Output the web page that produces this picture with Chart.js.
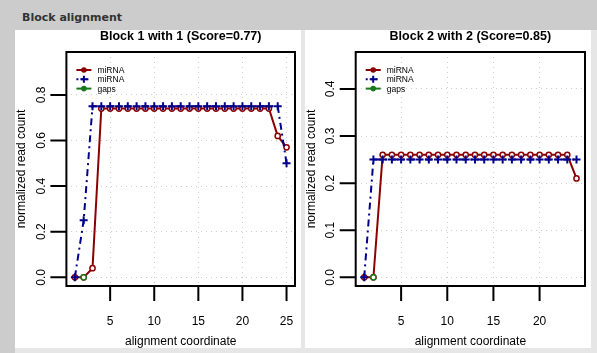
<!DOCTYPE html>
<html><head><meta charset="utf-8">
<script src="https://cdn.jsdelivr.net/npm/chart.js@4/dist/chart.umd.min.js"></script>
<style>
html,body{margin:0;padding:0;width:597px;height:353px;overflow:hidden;background:#e6e6e6;}
#hdr{position:absolute;left:0;top:0;width:597px;height:30px;background:#cccccc;}
#hdr span{position:absolute;left:22px;top:11px;font:bold 11px "DejaVu Sans",sans-serif;line-height:13px;color:#333;white-space:nowrap;}
#side{position:absolute;left:0;top:30px;width:15px;height:323px;background:#cccccc;}
.panel{position:absolute;top:30px;width:286px;height:318px;background:#fff;}
.panel canvas{display:block;}
</style></head>
<body>
<div id="hdr"><span>Block alignment</span></div>
<div id="side"></div>
<div class="panel" style="left:15px"><canvas id="c1" width="286" height="318"></canvas></div>
<div class="panel" style="left:305px"><canvas id="c2" width="286" height="318"></canvas></div>
<script>
// ---- data: Block 1 with 1 ----
const title1 = "Block 1 with 1 (Score=0.77)";
const coords1 = [1,2,3,4,5,6,7,8,9,10,11,12,13,14,15,16,17,18,19,20,21,22,23,24,25];
const miRNA1a = [0,0,0.04,0.74,0.74,0.74,0.74,0.74,0.74,0.74,0.74,0.74,0.74,0.74,0.74,0.74,0.74,0.74,0.74,0.74,0.74,0.74,0.74,0.62,0.57];
const miRNA1b = [0,0.25,0.75,0.75,0.75,0.75,0.75,0.75,0.75,0.75,0.75,0.75,0.75,0.75,0.75,0.75,0.75,0.75,0.75,0.75,0.75,0.75,0.75,0.75,0.5];
const gapsX1 = [2];
const gapsY1 = [0];
const xTicks1 = [5,10,15,20,25];
const xTickLabels1 = ["5","10","15","20","25"];
const yTicks1 = [0,0.2,0.4,0.6,0.8];
const yTickLabels1 = ["0.0","0.2","0.4","0.6","0.8"];

// ---- data: Block 2 with 2 ----
const title2 = "Block 2 with 2 (Score=0.85)";
const coords2 = [1,2,3,4,5,6,7,8,9,10,11,12,13,14,15,16,17,18,19,20,21,22,23,24];
const miRNA2a = [0,0,0.26,0.26,0.26,0.26,0.26,0.26,0.26,0.26,0.26,0.26,0.26,0.26,0.26,0.26,0.26,0.26,0.26,0.26,0.26,0.26,0.26,0.21];
const miRNA2b = [0,0.25,0.25,0.25,0.25,0.25,0.25,0.25,0.25,0.25,0.25,0.25,0.25,0.25,0.25,0.25,0.25,0.25,0.25,0.25,0.25,0.25,0.25,0.25];
const gapsX2 = [2];
const gapsY2 = [0];
const xTicks2 = [5,10,15,20];
const xTickLabels2 = ["5","10","15","20"];
const yTicks2 = [0,0.1,0.2,0.3,0.4];
const yTickLabels2 = ["0.0","0.1","0.2","0.3","0.4"];

const xTitle = "alignment coordinate";
const yTitle = "normalized read count";

const RED = '#8b0000', BLUE = '#00008b', GREEN = '#197819';
const SANS = '"Liberation Sans", Arial, Helvetica, sans-serif';

function pts(xs, ys){ return xs.map((x,i)=>({x:x, y:ys[i]})); }

const rPlot = {
  id:'rplot',
  afterDatasetsDraw(chart, args, o){
    const ctx = chart.ctx, a = chart.chartArea, xs = chart.scales.x, ys = chart.scales.y;
    ctx.save();
    ctx.strokeStyle = '#000'; ctx.lineWidth = 2; ctx.setLineDash([]);
    ctx.strokeRect(a.left, a.top, a.right-a.left, a.bottom-a.top);
    ctx.beginPath();
    o.xTicks.forEach(v=>{ const px = xs.getPixelForValue(v); ctx.moveTo(px, a.bottom); ctx.lineTo(px, a.bottom+15); });
    o.yTicks.forEach(v=>{ const py = ys.getPixelForValue(v); ctx.moveTo(a.left, py); ctx.lineTo(a.left-16, py); });
    ctx.stroke();
    ctx.fillStyle = '#000';
    ctx.font = '12px ' + SANS;
    ctx.textAlign = 'center'; ctx.textBaseline = 'alphabetic';
    o.xTicks.forEach((v,i)=>ctx.fillText(o.xLabels[i], xs.getPixelForValue(v), a.bottom+39));
    o.yTicks.forEach((v,i)=>{ ctx.save(); ctx.translate(a.left-21.7, ys.getPixelForValue(v)); ctx.rotate(-Math.PI/2); ctx.fillText(o.yLabels[i],0,0); ctx.restore(); });
    ctx.fillText(o.xTitle, (a.left+a.right)/2, a.bottom+59);
    ctx.save(); ctx.translate(a.left-41, (a.top+a.bottom)/2); ctx.rotate(-Math.PI/2); ctx.fillText(o.yTitle,0,0); ctx.restore();
    ctx.font = 'bold 12.5px ' + SANS;
    ctx.fillText(o.title, (a.left+a.right)/2, a.top-12);
    // legend
    ctx.textAlign = 'left';
    ctx.font = '8.5px ' + SANS;
    chart.data.datasets.forEach((d,i)=>{
      const y = a.top + 18 + i*9.3;
      const x0 = a.left+10, x1 = a.left+25, xm = (x0+x1)/2;
      ctx.strokeStyle = d.borderColor; ctx.lineWidth = 2;
      ctx.setLineDash(d.legendDash || []);
      ctx.beginPath(); ctx.moveTo(x0,y); ctx.lineTo(x1,y); ctx.stroke();
      ctx.setLineDash([]);
      if (d.pointStyle === 'cross'){
        ctx.beginPath(); ctx.moveTo(xm-3.5,y); ctx.lineTo(xm+3.5,y); ctx.moveTo(xm,y-3.5); ctx.lineTo(xm,y+3.5); ctx.stroke();
      } else {
        ctx.fillStyle = d.borderColor; ctx.beginPath(); ctx.arc(xm,y,2.8,0,Math.PI*2); ctx.fill();
      }
      ctx.fillStyle = '#000';
      ctx.fillText(d.label, a.left+31, y+3);
    });
    ctx.restore();
  }
};

function makeChart(id, c){
  const gridOpts = {color:'#cfcfcf', lineWidth:1, drawTicks:false};
  new Chart(document.getElementById(id), {
    type:'line',
    data:{datasets:[
      {label:'miRNA', data:pts(c.xs,c.red), borderColor:RED, borderWidth:2, pointStyle:'circle', pointRadius:2.6, pointBorderWidth:1.5, pointBackgroundColor:'#fff', pointBorderColor:RED, order:2, tension:0},
      {label:'miRNA', data:pts(c.xs,c.blue), borderColor:BLUE, borderWidth:2, borderDash:[7,4,2,4], legendDash:[2,3], pointStyle:'cross', pointRadius:4, pointBorderWidth:2, pointBorderColor:BLUE, order:1, tension:0},
      {label:'gaps', data:pts(c.gx,c.gy), borderColor:GREEN, borderWidth:2, pointStyle:'circle', pointRadius:2.6, pointBorderWidth:1.5, pointBackgroundColor:'#fff', pointBorderColor:GREEN, order:0, showLine:false}
    ]},
    options:{
      responsive:false, animation:false, events:[],
      layout:{padding:{left:c.padL, right:c.padR, top:22, bottom:62}},
      plugins:{legend:{display:false}, tooltip:{enabled:false},
        rplot:{title:c.title, xTicks:c.xTicks, xLabels:c.xLabels, yTicks:c.yTicks, yLabels:c.yLabels, xTitle:xTitle, yTitle:yTitle}},
      scales:{
        x:{type:'linear', min:c.xmin, max:c.xmax,
           afterBuildTicks:s=>{ s.ticks = c.xTicks.map(v=>({value:v})); },
           afterFit:s=>{ s.height = 0; },
           ticks:{display:false}, grid:gridOpts, border:{display:false, dash:[1,4]}},
        y:{type:'linear', min:c.ymin, max:c.ymax,
           afterBuildTicks:s=>{ s.ticks = c.yTicks.map(v=>({value:v})); },
           afterFit:s=>{ s.width = 0; },
           ticks:{display:false}, grid:gridOpts, border:{display:false, dash:[1,4]}}
      }
    },
    plugins:[rPlot]
  });
}

makeChart('c1', {title:title1, xs:coords1, red:miRNA1a, blue:miRNA1b, gx:gapsX1, gy:gapsY1,
  xTicks:xTicks1, xLabels:xTickLabels1, yTicks:yTicks1, yLabels:yTickLabels1,
  xmin:0.04, xmax:25.96, ymin:-0.038, ymax:0.988, padL:51.4, padR:1.4});
makeChart('c2', {title:title2, xs:coords2, red:miRNA2a, blue:miRNA2b, gx:gapsX2, gy:gapsY2,
  xTicks:xTicks2, xLabels:xTickLabels2, yTicks:yTicks2, yLabels:yTickLabels2,
  xmin:0.08, xmax:24.92, ymin:-0.0184, ymax:0.4784, padL:50.7, padR:1});
</script>
</body></html>
